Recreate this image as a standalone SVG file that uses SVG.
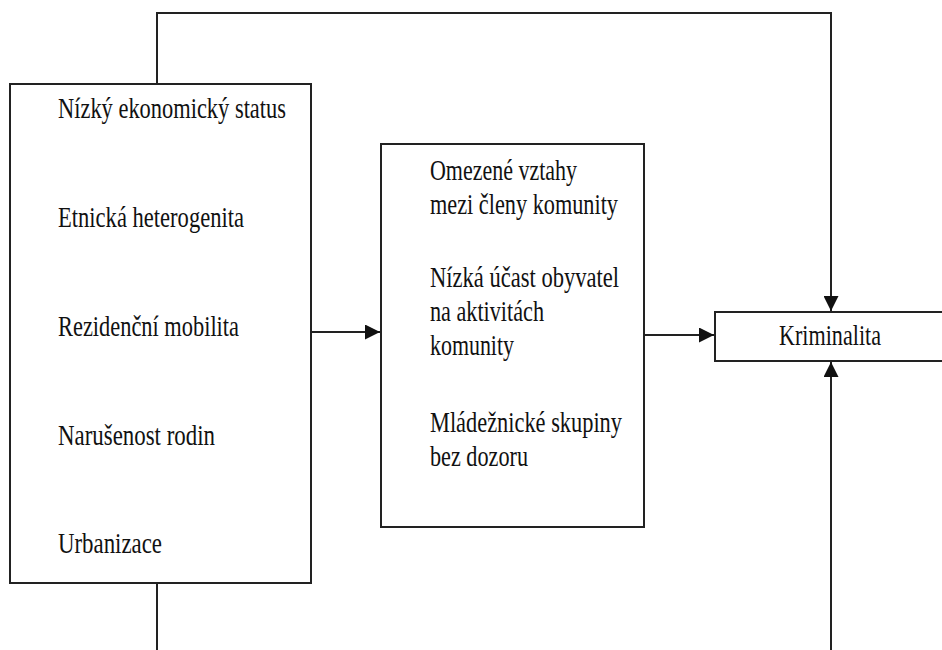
<svg xmlns="http://www.w3.org/2000/svg" width="942" height="650" viewBox="0 0 942 650">
<style>
.box{fill:#fff;stroke:#222;stroke-width:2}
.ln{fill:none;stroke:#222;stroke-width:2}
text{font-family:"Liberation Serif","Times New Roman",serif;font-size:29px;fill:#111}
</style>
<defs>
<marker id="ah" viewBox="0 0 15 15" refX="15" refY="7.5" markerWidth="15" markerHeight="15" markerUnits="userSpaceOnUse" orient="auto">
<path d="M0,0 L15,7.5 L0,15 Z" fill="#111"/>
</marker>
</defs>
<rect width="942" height="650" fill="#fff"/>
<g id="connectors">
<path class="ln" d="M157,84 V13 H831 V311" marker-end="url(#ah)"/>
<path class="ln" d="M157,583 V650"/>
<path class="ln" d="M831,650 V362" marker-end="url(#ah)"/>
<path class="ln" d="M311,332 H380" marker-end="url(#ah)"/>
<path class="ln" d="M644,335 H714" marker-end="url(#ah)"/>
</g>
<g id="factors">
<rect class="box" x="10" y="84" width="301" height="499"/>
<text x="58" y="118" textLength="228" lengthAdjust="spacingAndGlyphs">Nízký ekonomický status</text>
<text x="58" y="227" textLength="186" lengthAdjust="spacingAndGlyphs">Etnická heterogenita</text>
<text x="58" y="336" textLength="181" lengthAdjust="spacingAndGlyphs">Rezidenční mobilita</text>
<text x="58" y="445" textLength="157" lengthAdjust="spacingAndGlyphs">Narušenost rodin</text>
<text x="58" y="553" textLength="104" lengthAdjust="spacingAndGlyphs">Urbanizace</text>
</g>
<g id="mediators">
<rect class="box" x="381" y="144" width="263" height="383"/>
<text x="430" y="180" textLength="147" lengthAdjust="spacingAndGlyphs">Omezené vztahy</text>
<text x="430" y="214" textLength="188" lengthAdjust="spacingAndGlyphs">mezi členy komunity</text>
<text x="430" y="287" textLength="189" lengthAdjust="spacingAndGlyphs">Nízká účast obyvatel</text>
<text x="430" y="321" textLength="114" lengthAdjust="spacingAndGlyphs">na aktivitách</text>
<text x="430" y="355" textLength="84" lengthAdjust="spacingAndGlyphs">komunity</text>
<text x="430" y="432" textLength="192" lengthAdjust="spacingAndGlyphs">Mládežnické skupiny</text>
<text x="430" y="466" textLength="98" lengthAdjust="spacingAndGlyphs">bez dozoru</text>
</g>
<g id="kriminalita">
<rect class="box" x="715" y="312" width="240" height="49"/>
<text x="779" y="345" textLength="102" lengthAdjust="spacingAndGlyphs">Kriminalita</text>
</g>
</svg>
